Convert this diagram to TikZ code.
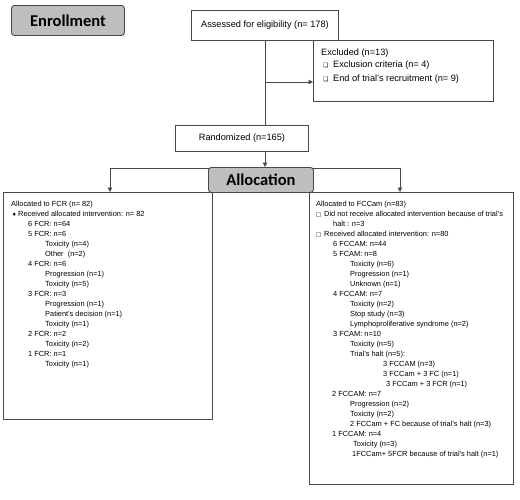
\documentclass[tikz,border=0pt]{standalone}
\usepackage{fontspec}
\setmainfont{Liberation Sans}
\newfontfamily\headfont{Carlito}
\newfontfamily\symfont{DejaVu Sans}
\usetikzlibrary{arrows.meta}
\pgfdeclarelayer{background}
\pgfsetlayers{background,main}
\definecolor{linec}{HTML}{474747}
\definecolor{headfill}{HTML}{BEBEBE}
\begin{document}
\begin{tikzpicture}[x=1pt,y=-1pt,
  box/.style={draw=linec, line width=0.9pt, inner sep=0pt, anchor=north west, fill=white},
  headbox/.style={box, fill=headfill, rounded corners=3pt, font=\headfont\bfseries\fontsize{16.5}{18}\selectfont},
  topbox/.style={box, font=\fontsize{9.2}{11}\selectfont},
  txt/.style={inner sep=0pt, anchor=base west, font=\fontsize{7.4}{10}\selectfont},
  toptxt/.style={inner sep=0pt, anchor=base west, font=\fontsize{9.2}{11}\selectfont},
  conn/.style={draw=linec, line width=0.9pt},
  arr/.style={conn, -{Triangle[length=4.5pt,width=4.5pt]}}]
\useasboundingbox (0,0) rectangle (520,499);

% header boxes
\node[headbox, minimum width=113pt, minimum height=30pt] (enroll) at (11,5) {Enrollment};
\node[headbox, minimum width=105pt, minimum height=25pt] (alloc) at (208,167) {Allocation};

% flow boxes
\node[topbox, minimum width=147pt, minimum height=30pt] (assess) at (191,10) {Assessed for eligibility (n= 178)};
\node[box, minimum width=180pt, minimum height=61pt] (excl) at (313,40) {};
\node[topbox, minimum width=133pt, minimum height=26pt] (rand) at (175,125) {Randomized (n=165)\hspace{16pt}};
\node[box, minimum width=209pt, minimum height=227pt] (fcr) at (3,192) {};
\node[box, minimum width=204pt, minimum height=292pt] (fcam) at (309,192) {};

% excluded text
\node[toptxt] (ex0) at (321,55.3) {Excluded (n=13)};
\node[toptxt] (ex1) at (323,67.6) {\makebox[10pt][l]{\symfont\fontsize{6}{6}\selectfont ❑}Exclusion criteria (n= 4)};
\node[toptxt] (ex2) at (323,81) {\makebox[10pt][l]{\symfont\fontsize{6}{6}\selectfont ❑}End of trial's recruitment (n= 9)};

% left box text
\foreach \a/\b/\c [count=\i] in {
  11/0/{Allocated to FCR (n= 82)},
  12/1/{\makebox[6pt][l]{\symfont\fontsize{5}{5}\selectfont ♦}Received allocated intervention: n= 82},
  28/2/{6 FCR: n=64},
  28/3/{5 FCR: n=6},
  45/4/{Toxicity (n=4)},
  45/5/{Other\ \ (n=2)},
  28/6/{4 FCR: n=6},
  45/7/{Progression (n=1)},
  45/8/{Toxicity (n=5)},
  28/9/{3 FCR: n=3},
  45/10/{Progression (n=1)},
  45/11/{Patient's decision (n=1)},
  45/12/{Toxicity (n=1)},
  28/13/{2 FCR: n=2},
  45/14/{Toxicity (n=2)},
  28/15/{1 FCR: n=1},
  45/16/{Toxicity (n=1)}}
  \node[txt] (l\i) at (\a,{206.6+10*\b}) {\c};

% right box text
\foreach \a/\b/\c [count=\i] in {
  316/0/{Allocated to FCCam (n=83)},
  316/1/{\makebox[8pt][l]{\symfont\fontsize{5.5}{5.5}\selectfont □}Did not receive allocated intervention because of trial's},
  333/2/{halt : n=3},
  316/3/{\makebox[8pt][l]{\symfont\fontsize{5.5}{5.5}\selectfont □}Received allocated intervention: n=80},
  333/4/{6 FCCAM: n=44},
  333/5/{5 FCAM: n=8},
  350/6/{Toxicity (n=6)},
  350/7/{Progression (n=1)},
  350/8/{Unknown (n=1)},
  333/9/{4 FCCAM: n=7},
  350/10/{Toxicity (n=2)},
  350/11/{Stop study (n=3)},
  350/12/{Lymphoproliferative syndrome (n=2)},
  333/13/{3 FCAM: n=10},
  350/14/{Toxicity (n=5)},
  350/15/{Trial's halt (n=5):},
  383/16/{3 FCCAM (n=3)},
  383/17/{3 FCCam + 3 FC (n=1)},
  386/18/{3 FCCam + 3 FCR (n=1)},
  332/19/{2 FCCAM: n=7},
  350/20/{Progression (n=2)},
  350/21/{Toxicity (n=2)},
  350/22/{2 FCCam + FC because of trial's halt (n=3)},
  332/23/{1 FCCAM: n=4},
  353/24/{Toxicity (n=3)},
  352/25/{1FCCam+ 5FCR because of trial's halt (n=1)}}
  \node[txt] (r\i) at (\a,{206.6+10*\b}) {\c};

% connectors
\coordinate (ea) at (265,82);
\coordinate (hl) at (110,168);
\coordinate (hr) at (400,168);
\coordinate (ra) at (265,151);
\begin{pgfonlayer}{background}
\draw[conn] (ea |- assess.south) -- (ea |- rand.north);
\draw[arr] (ea) -- (ea -| excl.west);
\draw[arr] (ra) -- (ra |- alloc.north);
\draw[conn] (hl) -- (hr);
\draw[arr] (hl) -- (hl |- fcr.north);
\draw[arr] (hr) -- (hr |- fcam.north);
\end{pgfonlayer}
\end{tikzpicture}
\end{document}
